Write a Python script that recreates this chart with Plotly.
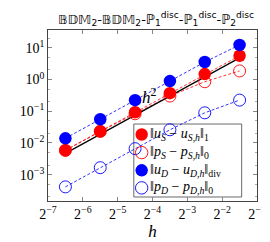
import plotly.graph_objects as go
import numpy as np

# mesh sizes h = sqrt(2) * 2^-k
h = [2**-6.5, 2**-5.5, 2**-4.5, 2**-3.5, 2**-2.5, 2**-1.5]
err_uS = [0.0059, 0.0234, 0.093, 0.37, 1.48, 5.6]
err_pS = [0.0058, 0.023, 0.083, 0.30, 0.85, 1.86]
err_uD = [0.014, 0.056, 0.223, 0.89, 3.55, 12.3]
err_pD = [4.13e-4, 1.66e-3, 6.6e-3, 0.026, 0.089, 0.224]
ref_h2 = [0.0047, 0.0188, 0.075, 0.30, 1.2, 4.8]

xtick_vals = [2**-7, 2**-6, 2**-5, 2**-4, 2**-3, 2**-2, 2**-1]
xtick_text = ["2<sup>−7</sup>", "2<sup>−6</sup>", "2<sup>−5</sup>", "2<sup>−4</sup>",
              "2<sup>−3</sup>", "2<sup>−2</sup>", "2<sup>−1</sup>"]
ytick_vals = [1e-3, 1e-2, 1e-1, 1e0, 1e1]
ytick_text = ["10<sup>−3</sup>", "10<sup>−2</sup>", "10<sup>−1</sup>", "10<sup>0</sup>", "10<sup>1</sup>"]

names = [
    "‖<i>u<sub>S</sub></i> − <i>u<sub>S,h</sub></i>‖<sub>1</sub>",
    "‖<i>p<sub>S</sub></i> − <i>p<sub>S,h</sub></i>‖<sub>0</sub>",
    "‖<i>u<sub>D</sub></i> − <i>u<sub>D,h</sub></i>‖<sub>div</sub>",
    "‖<i>p<sub>D</sub></i> − <i>p<sub>D,h</sub></i>‖<sub>0</sub>",
]

FONT = "Liberation Serif"
W, H = 270, 242
ML, MR, MT, MB = 39, 13, 22, 40.5
PW, PH = W - ML - MR, H - MT - MB


def px(x):
    return (x - ML) / PW


def py(y):
    return (H - MB - y) / PH


fig = go.Figure()

series = [
    (err_uS, "red", True),
    (err_pS, "red", False),
    (err_uD, "blue", True),
    (err_pD, "blue", False),
]

# dashed lines
for vals, col, filled in series:
    fig.add_trace(go.Scatter(x=h, y=vals, mode="lines",
                             line=dict(color=col, width=0.8, dash="3px,2px"),
                             showlegend=False, hoverinfo="skip"))

# reference h^2
fig.add_trace(go.Scatter(x=h, y=ref_h2, mode="lines",
                         line=dict(color="black", width=1.2),
                         showlegend=False))

# markers
for (vals, col, filled), nm in zip(series, names):
    if filled:
        mk = dict(symbol="circle", size=12.5, color=col, line=dict(width=0))
    else:
        mk = dict(symbol="circle-open", size=12, color=col, line=dict(width=0.9, color=col))
    fig.add_trace(go.Scatter(x=h, y=vals, mode="markers", marker=mk, name=nm,
                             showlegend=False))

fig.add_annotation(x=np.log10(2**-4.08), y=-0.51, xref="x", yref="y",
                   text="<i>h</i><sup>2</sup>", showarrow=False,
                   font=dict(family=FONT, size=17, color="black"))

# legend box (drawn beneath the data, as in the reference)
fig.add_shape(type="rect", xref="paper", yref="paper", layer="below",
              x0=px(128.5), x1=px(241), y0=py(197.3), y1=py(120.7),
              line=dict(color="#444", width=0.8), fillcolor="white")
row_y = [131.7, 150.7, 169.3, 187.7]
for (vals, col, filled), nm, ry in zip(series, names, row_y):
    fig.add_shape(type="circle", xref="paper", yref="paper",
                  xsizemode="pixel", ysizemode="pixel",
                  xanchor=px(136.7), yanchor=py(ry),
                  x0=-6.2, x1=6.2, y0=-6.2, y1=6.2,
                  fillcolor=col if filled else "rgba(0,0,0,0)",
                  line=dict(color=col, width=0 if filled else 0.9))
    fig.add_annotation(x=px(143.5), y=py(ry), xref="paper", yref="paper",
                       xanchor="left", yanchor="middle", showarrow=False,
                       text=nm, font=dict(family=FONT, size=14, color="black"))

fig.update_layout(
    width=W, height=H,
    margin=dict(l=ML, r=MR, t=MT, b=MB),
    paper_bgcolor="white", plot_bgcolor="white",
    font=dict(family=FONT, size=14, color="black"),
    title=dict(text="𝔹𝔻𝕄<sub>2</sub>-𝔹𝔻𝕄<sub>2</sub>-ℙ<sub>1</sub><sup>disc</sup>-ℙ<sub>1</sub><sup>disc</sup>-ℙ<sub>2</sub><sup>disc</sup>",
               x=148/270, xanchor="center", y=1-11/242, yanchor="middle",
               font=dict(family="DejaVu Sans", size=13, color="black")),
    showlegend=False,
    xaxis=dict(type="log", range=[np.log10(2**-7), np.log10(2**-1)],
               tickvals=xtick_vals, ticktext=xtick_text,
               ticks="inside", ticklen=4, tickcolor="#888",
               showline=True, linecolor="#444", linewidth=0.8, mirror="allticks",
               showgrid=False, zeroline=False,
               title=dict(text="<i>h</i>", standoff=4, font=dict(family=FONT, size=17)),
               tickfont=dict(family=FONT, size=14)),
    yaxis=dict(type="log", range=[-3.83, 1.56],
               tickvals=ytick_vals, ticktext=ytick_text,
               ticks="inside", ticklen=4, tickcolor="#888",
               showline=True, linecolor="#444", linewidth=0.8, mirror="allticks",
               showgrid=False, zeroline=False,
               minor=dict(ticks="inside", ticklen=2, tickcolor="#aaa", showgrid=False),
               tickfont=dict(family=FONT, size=14)),
)

fig.write_html("out.html")
